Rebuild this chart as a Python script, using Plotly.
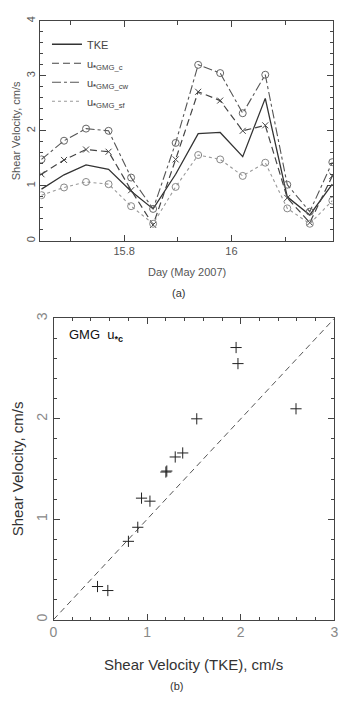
import plotly.graph_objects as go

# ---- data ----
days = [15.646, 15.688, 15.729, 15.771, 15.813, 15.854, 15.896,
        15.938, 15.979, 16.021, 16.063, 16.104, 16.146, 16.188]
tke = [0.94, 1.20, 1.38, 1.30, 0.90, 0.58, 1.21, 1.95, 1.97, 1.53, 2.59, 0.80, 0.47, 1.03]
u_c = [1.21, 1.47, 1.66, 1.62, 0.92, 0.29, 1.48, 2.71, 2.55, 2.00, 2.10, 0.78, 0.33, 1.18]
u_cw = [1.48, 1.82, 2.04, 2.00, 1.15, 0.58, 1.78, 3.20, 3.05, 2.32, 3.02, 1.02, 0.53, 1.43]
u_sf = [0.83, 0.97, 1.07, 1.03, 0.63, 0.31, 0.98, 1.56, 1.48, 1.18, 1.42, 0.59, 0.31, 0.73]
identity = [0, 3]

W, H = 342, 705
FONT = "Liberation Sans"

def px(x):
    return x / W

def py(y):
    return (H - y) / H

fig = go.Figure()

# ---- top panel traces ----
fig.add_trace(go.Scatter(x=days, y=tke, mode="lines", line=dict(color="#333", width=1.3),
                         showlegend=False, xaxis="x", yaxis="y"))
fig.add_trace(go.Scatter(x=days, y=u_c, mode="lines+markers",
                         line=dict(color="#444", width=1.2, dash="7px,4px"),
                         marker=dict(symbol="x-thin", size=6, line=dict(width=1, color="#444")),
                         showlegend=False, xaxis="x", yaxis="y"))
fig.add_trace(go.Scatter(x=days, y=u_cw, mode="lines+markers",
                         line=dict(color="#555", width=1.1, dash="dashdot"),
                         marker=dict(symbol="circle-open", size=7, color="#666", line=dict(width=1)),
                         showlegend=False, xaxis="x", yaxis="y"))
fig.add_trace(go.Scatter(x=days, y=u_sf, mode="lines+markers",
                         line=dict(color="#999", width=1.1, dash="dot"),
                         marker=dict(symbol="circle-open", size=7, color="#888", line=dict(width=1)),
                         showlegend=False, xaxis="x", yaxis="y"))

# legend-only entries (lines without markers)
leg = [("TKE", dict(color="#333", width=1.3)),
       ("u<sub><b>*</b>GMG_c</sub>", dict(color="#444", width=1.2, dash="7px,4px")),
       ("u<sub><b>*</b>GMG_cw</sub>", dict(color="#555", width=1.1, dash="dashdot")),
       ("u<sub><b>*</b>GMG_sf</sub>", dict(color="#999", width=1.1, dash="dot"))]
for name, ln in leg:
    fig.add_trace(go.Scatter(x=[None], y=[None], mode="lines", line=ln, name=name,
                             showlegend=True, xaxis="x", yaxis="y"))

# ---- bottom panel traces ----
fig.add_trace(go.Scatter(x=identity, y=identity, mode="lines",
                         line=dict(color="#555", width=1, dash="6px,4px"),
                         showlegend=False, xaxis="x2", yaxis="y2"))
fig.add_trace(go.Scatter(x=tke, y=u_c, mode="markers",
                         marker=dict(symbol="cross-thin", size=8, line=dict(width=1, color="#222")),
                         showlegend=False, xaxis="x2", yaxis="y2"))

axis_common = dict(showgrid=False, zeroline=False, showline=True, mirror="allticks",
                   linecolor="#444", linewidth=1, ticks="inside", tickcolor="#444")

fig.update_layout(
    width=W, height=H,
    margin=dict(l=0, r=0, t=0, b=0),
    paper_bgcolor="white", plot_bgcolor="white",
    font=dict(family=FONT, color="#555"),
    xaxis=dict(domain=[px(37.3), px(337.3)], range=[15.644, 16.19], anchor="y",
               dtick=0.2, tick0=0, ticklen=6,
               minor=dict(ticks="inside", dtick=0.1, tick0=0, ticklen=4, tickcolor="#444"),
               tickfont=dict(size=11, color="#555"), **axis_common),
    yaxis=dict(domain=[py(237.5), py(15)], range=[0, 4], anchor="x",
               dtick=1, ticklen=6, tickangle=-90,
               minor=dict(ticks="inside", dtick=0.2, ticklen=3, tickcolor="#444"),
               tickfont=dict(size=11, color="#555"), **axis_common),
    xaxis2=dict(domain=[px(50.7), px(338.3)], range=[0, 3], anchor="y2",
                dtick=1, ticklen=6, ticklabeloverflow="allow",
                minor=dict(ticks="inside", dtick=0.2, ticklen=3, tickcolor="#444"),
                tickfont=dict(size=14, color="#888"), **axis_common),
    yaxis2=dict(domain=[py(620.7), py(316)], range=[0, 3], anchor="x2",
                dtick=1, ticklen=6, tickangle=-90, ticklabeloverflow="allow",
                minor=dict(ticks="inside", dtick=0.2, ticklen=3, tickcolor="#444"),
                tickfont=dict(size=14, color="#888"), **axis_common),
    legend=dict(x=px(44), y=py(24), xanchor="left", yanchor="top",
                bgcolor="rgba(0,0,0,0)", font=dict(size=11, color="#444"),
                itemwidth=30, tracegroupgap=0),
)

ann = [
    dict(text="Shear Velocity, cm/s", x=px(12), y=py(126), textangle=-90,
         font=dict(size=11, color="#555")),
    dict(text="Day (May 2007)", x=px(187), y=py(269), font=dict(size=11, color="#555")),
    dict(text="(a)", x=px(179), y=py(290), font=dict(size=11, color="#333")),
    dict(text="Shear Velocity, cm/s", x=px(14), y=py(468), textangle=-90,
         font=dict(size=15, color="#333")),
    dict(text="Shear Velocity (TKE), cm/s", x=px(194), y=py(666), font=dict(size=15, color="#333")),
    dict(text="(b)", x=px(177), y=py(688), font=dict(size=11, color="#333")),
    dict(text="GMG  u<sub><b>*c</b></sub>", x=px(65), y=py(333), xanchor="left",
         font=dict(size=13, color="#111")),
]
for a in ann:
    a.setdefault("xanchor", "center")
    fig.add_annotation(xref="paper", yref="paper", showarrow=False, yanchor="middle", **a)

fig.write_html("out.html")
